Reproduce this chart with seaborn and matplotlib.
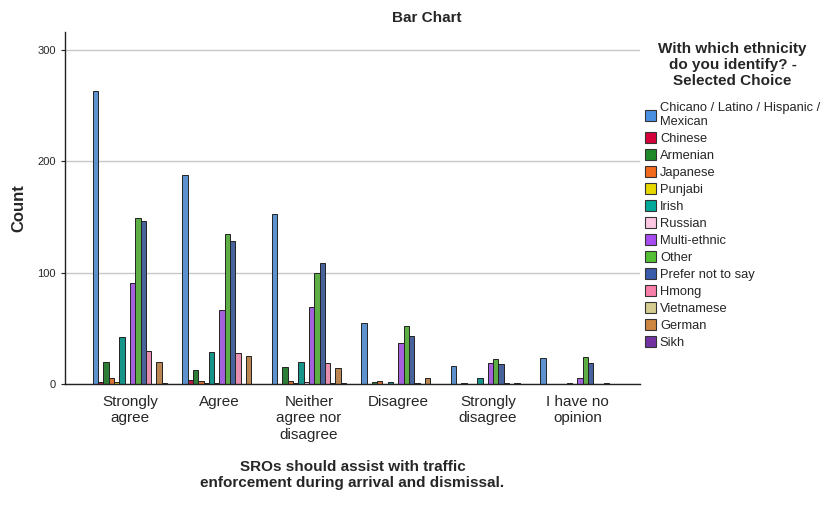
import matplotlib
matplotlib.use("Agg")
import matplotlib.pyplot as plt
import seaborn as sns
import pandas as pd
from matplotlib.patches import Patch

categories = ["Strongly\nagree", "Agree", "Neither\nagree nor\ndisagree", "Disagree",
              "Strongly\ndisagree", "I have no\nopinion"]
ethnicities = ["Chicano / Latino / Hispanic /\nMexican", "Chinese", "Armenian", "Japanese",
               "Punjabi", "Irish", "Russian", "Multi-ethnic", "Other", "Prefer not to say",
               "Hmong", "Vietnamese", "German", "Sikh"]

chicano     = [263, 188, 153, 55, 16, 23]
chinese     = [2, 4, 0, 0, 0, 0]
armenian    = [20, 13, 15, 2, 1, 0]
japanese    = [5, 3, 3, 3, 0, 0]
punjabi     = [2, 1, 1, 0, 0, 0]
irish       = [42, 29, 20, 2, 5, 1]
russian     = [0, 1, 2, 0, 0, 0]
multi       = [91, 66, 69, 37, 19, 5]
other       = [149, 135, 100, 52, 22, 24]
prefer      = [146, 128, 109, 43, 18, 19]
hmong       = [30, 28, 19, 1, 1, 0]
vietnamese  = [0, 0, 1, 0, 0, 0]
german      = [20, 25, 14, 5, 1, 1]
sikh        = [1, 0, 1, 0, 0, 0]

series = [chicano, chinese, armenian, japanese, punjabi, irish, russian, multi,
          other, prefer, hmong, vietnamese, german, sikh]

colors = ["#4A90E2", "#D6003B", "#1F8A2A", "#F26A1B", "#E6D800", "#00A99A",
          "#FFC8E2", "#A84BF0", "#55BF35", "#3A5CAA", "#F77FAA", "#D4CC90",
          "#CD853F", "#7233A0"]

rows = []
for eth, vals in zip(ethnicities, series):
    for cat, v in zip(categories, vals):
        rows.append({"cat": cat, "eth": eth, "count": v})
df = pd.DataFrame(rows)

sns.set_style("white")
plt.rcParams['font.family'] = ['Liberation Sans', 'DejaVu Sans']

fig = plt.figure(figsize=(8.35, 5.07), dpi=100)
ax = fig.add_axes([65/835, 1-384/507, (640-65)/835, (384-32)/507])

sns.barplot(data=df, x="cat", y="count", hue="eth", order=categories,
            hue_order=ethnicities, palette=colors, width=0.83, gap=0,
            edgecolor="#222222", linewidth=0.7, ax=ax, legend=False)

ax.set_xlim(-0.726, 5.70)
ax.set_ylim(0, 316)
ax.set_yticks([0, 100, 200, 300])
ax.yaxis.grid(True, color="#c8c8c8", linewidth=1)
ax.set_axisbelow(True)
for s in ["top", "right"]:
    ax.spines[s].set_visible(False)
for s in ["left", "bottom"]:
    ax.spines[s].set_color("#222222")
    ax.spines[s].set_linewidth(1)
ax.tick_params(axis="y", labelsize=8, length=3, left=True, color="#222222")
ax.tick_params(axis="x", labelsize=11, length=0, pad=8)
for lab in ax.get_xticklabels():
    lab.set_family(['Liberation Sans Narrow', 'Liberation Sans', 'DejaVu Sans'])
ax.set_ylabel("Count", fontsize=12, fontweight="bold", labelpad=8)
ax.set_xlabel("SROs should assist with traffic\nenforcement during arrival and dismissal.",
              fontsize=11, fontweight="bold", labelpad=13)

fig.text(427/835, 1-18/507, "Bar Chart", ha="center", va="center", fontsize=11,
         fontweight="bold")

handles = [Patch(facecolor=c, edgecolor="#333333", linewidth=0.8) for c in colors]
leg = fig.legend(handles, ethnicities, loc="upper left",
                 bbox_to_anchor=(636/835, 1-33/507), frameon=False,
                 title="With which ethnicity\ndo you identify? -\nSelected Choice",
                 title_fontproperties={"weight": "bold", "size": 11},
                 fontsize=9.3, handlelength=0.85, handleheight=0.95,
                 handletextpad=0.3, labelspacing=0.31, borderpad=0.2)
leg.get_title().set_multialignment("center")
leg._legend_box.align = "center"
leg._legend_box.sep = 10

fig.savefig("out.png", dpi=100)
